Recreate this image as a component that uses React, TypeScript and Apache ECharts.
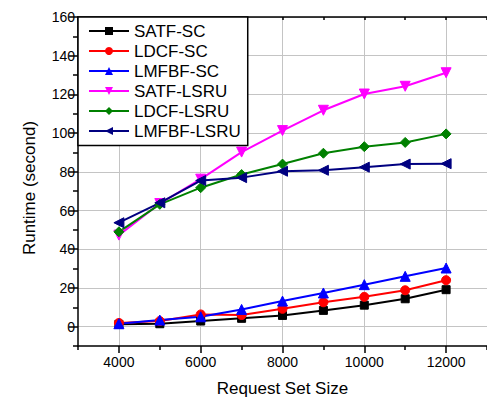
import React, { useEffect, useRef } from "react";
import * as echarts from "echarts";

const requestSizes = [4000, 5000, 6000, 7000, 8000, 9000, 10000, 11000, 12000];
const satfSC = [1.2, 1.5, 2.9, 4.3, 5.8, 8.4, 11.1, 14.4, 19.1];
const ldcfSC = [1.9, 2.9, 6.3, 6.0, 9.2, 12.6, 15.4, 18.8, 24.0];
const lmfbfSC = [1.5, 3.4, 5.1, 8.9, 13.2, 17.4, 21.7, 26.0, 30.3];
const satfLSRU = [47.3, 63.6, 76.2, 90.2, 101.3, 111.8, 120.2, 124.2, 131.2];
const ldcfLSRU = [49.0, 63.2, 71.8, 78.6, 84.0, 89.6, 93.0, 95.2, 99.6];
const lmfbfLSRU = [53.7, 64.0, 75.5, 77.0, 80.3, 80.8, 82.4, 84.0, 84.2];

const xMajorTicks = [4000, 6000, 8000, 10000, 12000];
const xMinorTicks = [3000, 5000, 7000, 9000, 11000, 13000];
const yMajorTicks = [0, 20, 40, 60, 80, 100, 120, 140, 160];
const yMinorTicks = [-10, 10, 30, 50, 70, 90, 110, 130, 150];

const FONT = "'Liberation Sans', Arial, sans-serif";

const seriesDefs = [
  { name: "SATF-SC", data: satfSC, color: "#000000", symbol: "rect", size: 8, rotate: 0 },
  { name: "LDCF-SC", data: ldcfSC, color: "#ff0000", symbol: "circle", size: 9, rotate: 0 },
  { name: "LMFBF-SC", data: lmfbfSC, color: "#0000ff", symbol: "triangle", size: 10, rotate: 0 },
  { name: "SATF-LSRU", data: satfLSRU, color: "#ff00ff", symbol: "triangle", size: 10, rotate: 180 },
  { name: "LDCF-LSRU", data: ldcfLSRU, color: "#008000", symbol: "diamond", size: 10, rotate: 0 },
  { name: "LMFBF-LSRU", data: lmfbfLSRU, color: "#000080", symbol: "triangle", size: 10, rotate: 90 },
];

export default function App() {
  const ref = useRef<HTMLDivElement>(null);
  useEffect(() => {
    if (!ref.current) return;
    const chart = echarts.init(ref.current, null, { renderer: "svg" });
    const axisLineStyle = { color: "#000", width: 1.5 };
    const plain = (v: number) => String(v);
    chart.setOption({
      animation: false,
      backgroundColor: "#fff",
      grid: { left: 78, right: -2, top: 17, bottom: 54, containLabel: false },
      legend: {
        orient: "vertical",
        left: 78,
        top: 17,
        padding: [5.5, 7, 6, 10],
        itemGap: 3,
        itemWidth: 40,
        itemHeight: 10,
        borderColor: "#000",
        borderWidth: 1.5,
        borderRadius: 0,
        backgroundColor: "#fff",
        textStyle: { fontSize: 17, fontFamily: FONT, color: "#000", lineHeight: 17, padding: [0, 0, 0, 0] },
        itemStyle: { borderWidth: 0 },
        data: seriesDefs.map((s) => s.name),
      },
      xAxis: [
        {
          type: "value",
          position: "bottom",
          min: 3000,
          max: 13000,
          interval: 1000,
          name: "Request Set Size",
          nameLocation: "middle",
          nameGap: 34,
          nameTextStyle: { fontSize: 17, fontFamily: FONT, color: "#000" },
          axisLine: { show: true, onZero: false, lineStyle: axisLineStyle },
          axisTick: { show: true, customValues: xMajorTicks, length: 7, lineStyle: axisLineStyle },
          axisLabel: { customValues: xMajorTicks, formatter: plain, fontSize: 14, fontFamily: FONT, color: "#000", margin: 9 },
          splitLine: { show: true, lineStyle: { color: "#c4c4c4", width: 1 } },
        },
        {
          type: "value",
          position: "bottom",
          min: 3000,
          max: 13000,
          interval: 1000,
          axisLine: { show: false, onZero: false },
          axisTick: { show: true, customValues: xMinorTicks, length: 4, lineStyle: axisLineStyle },
          axisLabel: { show: false },
          splitLine: { show: false },
        },
        {
          type: "value",
          position: "top",
          min: 3000,
          max: 13000,
          interval: 1000,
          axisLine: { show: true, onZero: false, lineStyle: axisLineStyle },
          axisTick: { show: true, inside: true, length: 3, lineStyle: axisLineStyle },
          axisLabel: { show: false },
          splitLine: { show: false },
        },
      ],
      yAxis: [
        {
          type: "value",
          position: "left",
          min: -10,
          max: 160,
          interval: 10,
          name: "Runtime (second)",
          nameLocation: "middle",
          nameGap: 40,
          nameTextStyle: { fontSize: 17, fontFamily: FONT, color: "#000", padding: [0, 13, 0, 0] },
          axisLine: { show: true, onZero: false, lineStyle: axisLineStyle },
          axisTick: { show: true, customValues: yMajorTicks, length: 9, lineStyle: axisLineStyle },
          axisLabel: { customValues: yMajorTicks, formatter: plain, fontSize: 14, fontFamily: FONT, color: "#000", margin: 3 },
          splitLine: { show: true, lineStyle: { color: "#c4c4c4", width: 1 } },
        },
        {
          type: "value",
          position: "left",
          offset: 0,
          min: -10,
          max: 160,
          interval: 10,
          axisLine: { show: false, onZero: false },
          axisTick: { show: true, customValues: yMinorTicks, length: 5, lineStyle: axisLineStyle },
          axisLabel: { show: false },
          splitLine: { show: false },
        },
      ],
      series: seriesDefs.map((s) => ({
        name: s.name,
        type: "line",
        xAxisIndex: 0,
        yAxisIndex: 0,
        data: requestSizes.map((x, i) => [x, s.data[i]]),
        symbol: s.symbol,
        symbolSize: s.size,
        symbolRotate: s.rotate,
        showAllSymbol: true,
        color: s.color,
        lineStyle: { color: s.color, width: 2 },
        itemStyle: { color: s.color, borderColor: s.color, borderWidth: 1 },
      })),
    });
    return () => chart.dispose();
  }, []);
  return <div ref={ref} style={{ width: 487, height: 402, position: "absolute", left: 0, top: 0 }} />;
}
